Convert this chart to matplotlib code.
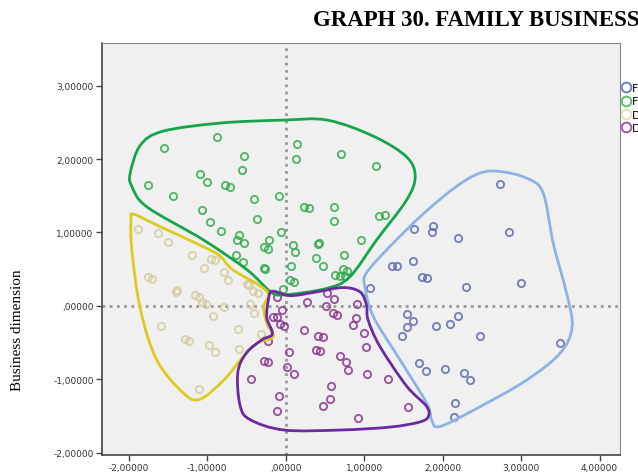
import matplotlib
matplotlib.use("Agg")
import matplotlib.pyplot as plt
import numpy as np
from matplotlib.path import Path
from matplotlib.patches import PathPatch

# ---- data ----
blue_x = [2.73, 1.63, 1.88, 1.86, 2.19, 2.85, 1.62, 1.36, 1.42, 1.74, 1.80, 1.08, 2.30, 3.00,
          1.54, 1.62, 1.54, 1.48, 1.92, 2.10, 2.20, 2.48, 3.50, 1.70, 1.79, 2.03, 2.27, 2.35,
          2.16, 2.15]
blue_y = [1.66, 1.05, 1.09, 1.01, 0.92, 1.01, 0.61, 0.54, 0.55, 0.40, 0.38, 0.25, 0.26, 0.31,
          -0.11, -0.21, -0.29, -0.41, -0.27, -0.24, -0.14, -0.41, -0.51, -0.78, -0.88, -0.86,
          -0.91, -1.01, -1.32, -1.51]

green_x = [-0.88, -1.55, 0.14, -0.53, 0.13, 0.70, 1.15, -1.09, -1.00, -0.55, -1.75, -0.77,
           -0.71, -1.43, -0.40, -0.08, -1.07, 0.24, 0.30, 0.62, -0.37, 0.61, 1.19, 1.26,
           -0.97, -0.83, -0.06, -0.60, -0.62, -0.53, -0.21, -0.28, -0.23, 0.09, 0.12, 0.42,
           0.41, 0.96, 0.74, 0.39, 0.48, -0.63, -0.54, -0.27, -0.26, 0.07, 0.06, 0.11, 0.73,
           0.78, 0.76, 0.69, 0.63, -0.04]
green_y = [2.30, 2.15, 2.20, 2.04, 2.00, 2.07, 1.90, 1.80, 1.69, 1.85, 1.65, 1.65, 1.62, 1.50,
           1.45, 1.50, 1.31, 1.35, 1.33, 1.35, 1.18, 1.15, 1.22, 1.24, 1.14, 1.02, 1.01, 0.96,
           0.90, 0.85, 0.90, 0.80, 0.78, 0.83, 0.74, 0.85, 0.84, 0.90, 0.70, 0.65, 0.55, 0.70,
           0.60, 0.52, 0.50, 0.55, 0.35, 0.33, 0.50, 0.48, 0.41, 0.41, 0.42, 0.23]

tan_x = [-1.88, -1.63, -1.50, -1.19, -0.95, -0.90, -1.04, -0.79, -0.73, -1.76, -1.70, -1.39,
         -1.40, -1.15, -1.10, -1.06, -1.01, -0.49, -0.47, -0.41, -0.35, -0.46, -0.78, -0.92,
         -0.40, -1.59, -0.61, -0.32, -1.28, -1.23, -0.98, -0.90, -0.59, -1.11]
tan_y = [1.05, 0.99, 0.87, 0.70, 0.64, 0.63, 0.52, 0.46, 0.35, 0.39, 0.37, 0.21, 0.19, 0.15,
         0.12, 0.05, 0.03, 0.30, 0.28, 0.20, 0.17, 0.03, -0.02, -0.14, -0.10, -0.28, -0.31,
         -0.38, -0.45, -0.48, -0.53, -0.63, -0.58, -1.13]

purple_x = [-0.11, -0.05, -0.16, -0.11, -0.07, -0.02, 0.27, 0.53, 0.62, 0.52, 0.91, 0.60,
            0.65, 0.89, 0.86, 0.23, 1.00, -0.23, 0.41, 0.47, 1.02, 0.04, 0.39, 0.44, 0.69,
            0.77, 0.80, -0.28, -0.23, 0.02, 0.10, -0.44, 1.04, 1.31, 0.58, 0.56, 0.47, -0.09,
            -0.11, 0.92, 1.56]
purple_y = [0.12, -0.05, -0.15, -0.15, -0.25, -0.27, 0.05, 0.17, 0.09, 0.00, 0.02, -0.10,
            -0.13, -0.17, -0.26, -0.33, -0.37, -0.48, -0.41, -0.43, -0.56, -0.63, -0.60, -0.62,
            -0.68, -0.77, -0.87, -0.75, -0.77, -0.83, -0.93, -0.99, -0.93, -0.99, -1.09, -1.27,
            -1.36, -1.23, -1.43, -1.52, -1.38]

# outline vertices of the hand drawn group hulls
blue_hull_x = [2.73, 3.07, 3.28, 3.41, 3.58, 3.65, 3.50, 3.07, 2.48, 1.97, 1.86, 1.80, 1.46,
               1.12, 1.01, 1.03, 1.33, 1.76, 2.18, 2.48]
blue_hull_y = [1.83, 1.74, 1.54, 0.85, 0.17, -0.28, -0.64, -1.01, -1.37, -1.64, -1.55, -1.33,
               -0.74, -0.15, 0.26, 0.45, 0.81, 1.26, 1.63, 1.81]
green_hull_x = [-1.98, -1.85, -1.56, -0.83, -0.03, 0.53, 1.12, 1.54, 1.65, 1.54, 1.16, 0.82,
                0.53, -0.03, -0.20, -0.49, -1.05, -1.77, -1.96]
green_hull_y = [1.81, 2.19, 2.38, 2.49, 2.53, 2.53, 2.31, 2.03, 1.76, 1.44, 0.90, 0.40, 0.24,
                0.15, 0.20, 0.49, 0.90, 1.35, 1.63]
tan_hull_x = [-1.94, -1.64, -0.96, -0.81, -0.67, -0.24, -0.28, -0.24, -0.16, -0.37, -0.54,
              -0.79, -1.09, -1.30, -1.64, -1.85, -1.96, -1.97]
tan_hull_y = [1.25, 1.10, 0.76, 0.65, 0.49, 0.20, -0.01, -0.24, -0.42, -0.51, -0.69, -1.01,
              -1.27, -1.19, -0.74, -0.05, 0.76, 1.17]
purple_hull_x = [-0.17, 0.06, 0.39, 0.73, 0.95, 1.03, 1.05, 1.20, 1.54, 1.79, 1.82, 1.71,
                 1.33, 0.69, -0.02, -0.45, -0.58, -0.61, -0.50, -0.30, -0.17, -0.24, -0.22]
purple_hull_y = [0.20, 0.14, 0.19, 0.25, 0.19, 0.01, -0.19, -0.55, -1.09, -1.36, -1.50, -1.58,
                 -1.65, -1.69, -1.69, -1.55, -1.36, -0.91, -0.64, -0.46, -0.38, -0.16, 0.08]

labels = ["Family A", "Family B", "Dispersed A", "Dispersed B"]
xticks = [-2, -1, 0, 1, 2, 3, 4]
yticks = [-2, -1, 0, 1, 2, 3]


def hull_path(xs, ys):
    # closed smooth curve through the vertices (catmull-rom as cubic beziers)
    p = np.column_stack([xs, ys])
    n = len(p)
    verts = [p[0]]
    codes = [Path.MOVETO]
    for i in range(n):
        p0, p1, p2, p3 = p[i - 1], p[i], p[(i + 1) % n], p[(i + 2) % n]
        verts += [p1 + (p2 - p0) / 6, p2 - (p3 - p1) / 6, p2]
        codes += [Path.CURVE4] * 3
    return Path(verts, codes)


def fmt(v):
    s = "%.5f" % v
    s = s.replace(".", ",")
    if s.startswith("0,"):
        s = s[1:]
    return s


fig = plt.figure(figsize=(6.38, 4.77), dpi=100)
ax = fig.add_axes([102 / 638, 1 - 456 / 477, (620 - 102) / 638, (456 - 44) / 477])
ax.set_facecolor("#f0f0f0")

ax.axvline(0, color="#999999", lw=2, ls=(0, (1, 1.6)), zorder=1)
ax.axhline(0, color="#999999", lw=2, ls=(0, (1, 1.6)), zorder=1)

groups = [
    (blue_x, blue_y, "#5b67ad", blue_hull_x, blue_hull_y, "#8db3e2"),
    (green_x, green_y, "#2eaa48", green_hull_x, green_hull_y, "#17a54c"),
    (tan_x, tan_y, "#d3cb9e", tan_hull_x, tan_hull_y, "#dccb1e"),
    (purple_x, purple_y, "#86328a", purple_hull_x, purple_hull_y, "#6b2a9e"),
]
legend_cols = ["#6f7dc2", "#55c46a", "#e8deb6", "#9e5aa6"]

for (gx, gy, pc, hx, hy, hc), lab, lc in zip(groups, labels, legend_cols):
    ax.plot(gx, gy, "o", ms=5.2, mfc="none", mec=pc, mew=1.4, alpha=0.8, zorder=3)
    ax.add_patch(PathPatch(hull_path(hx, hy), fill=False, ec=hc, lw=2.0, zorder=4))
    ax.plot([], [], "o", ms=7, mfc="none", mec=lc, mew=1.4, label=lab)

ax.set_xlim(-2.34, 4.26)
ax.set_ylim(-2.03, 3.58)
ax.set_xticks(xticks)
ax.set_yticks(yticks)
ax.set_xticklabels([fmt(v) for v in xticks])
ax.set_yticklabels([fmt(v) for v in yticks])
ax.tick_params(labelsize=6.5, length=4, width=1, color="#444444", labelcolor="#333333",
               pad=2)
for side in ["left", "bottom"]:
    ax.spines[side].set_color("#444444")
    ax.spines[side].set_linewidth(1.2)
for side in ["top", "right"]:
    ax.spines[side].set_color("#888888")
    ax.spines[side].set_linewidth(0.8)

ax.legend(loc="upper left", bbox_to_anchor=(1.0, 0.908), frameon=False, fontsize=8,
          handlelength=0.6, handletextpad=0.3, labelspacing=0.3, borderaxespad=0.0,
          borderpad=0.2)

fig.text(313 / 638, 1 - 21 / 477, "GRAPH 30. FAMILY BUSINESS",
         family="Liberation Serif", weight="bold", fontsize=16.5, ha="left", va="center")
fig.text(18 / 638, 1 - 330 / 477, "Business dimension", family="Liberation Serif",
         fontsize=11, rotation=90, ha="center", va="center")

fig.savefig("out.png", dpi=100)
